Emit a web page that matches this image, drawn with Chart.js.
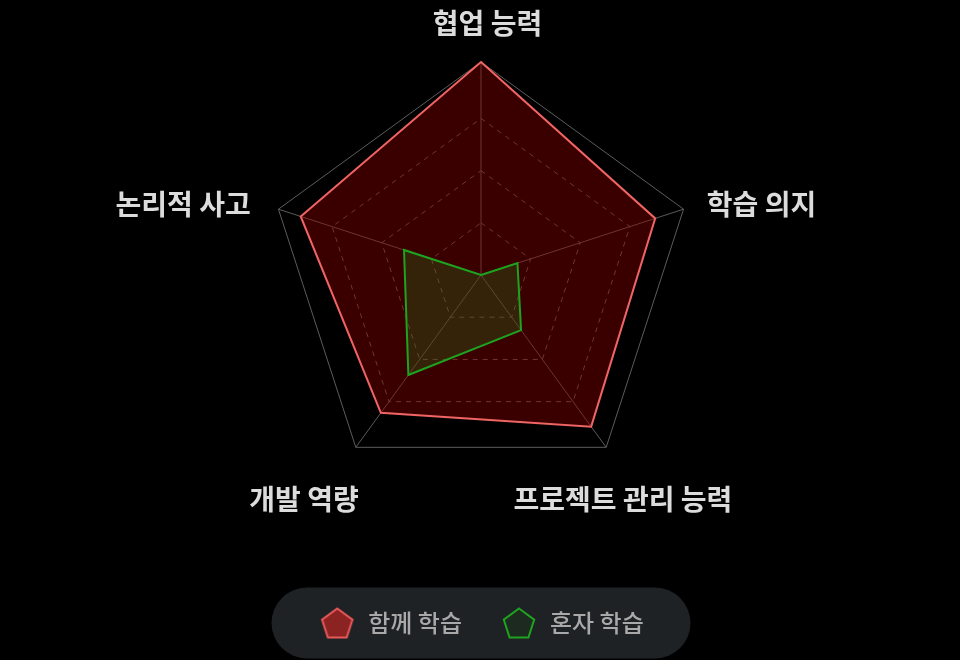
<!DOCTYPE html>
<html>
<head>
<meta charset="utf-8">
<script src="https://cdn.jsdelivr.net/npm/chart.js@4.4.1/dist/chart.umd.min.js"></script>
<style>
  html, body { margin: 0; padding: 0; background: #000; }
  #wrap { width: 960px; height: 660px; position: relative; }
</style>
</head>
<body>
<div id="wrap"><canvas id="radarChart"></canvas></div>
<script>
// categories and values (0 - 100 scale)
var categories = ["협업 능력", "학습 의지", "프로젝트 관리 능력", "개발 역량", "논리적 사고"];
var seriesNames = ["함께 학습", "혼자 학습"];
var togetherValues = [100, 86, 88, 80, 89];
var aloneValues = [0, 18, 32, 58, 38];
var scaleMax = 100;
var scaleStep = 24.5;

var labelFont = '700 28px "Noto Sans CJK KR", "Noto Sans", sans-serif';

// pentagon icon for the legend
function pentagonIcon(fill, stroke) {
  var c = document.createElement("canvas");
  c.width = 36;
  c.height = 36;
  var g = c.getContext("2d");
  var r = 16;
  var cy = 18 + 0.0955 * r;
  g.beginPath();
  for (var i = 0; i < 5; i++) {
    var a = -Math.PI / 2 + i * 2 * Math.PI / 5;
    var px = 18 + r * Math.cos(a);
    var py = cy + r * Math.sin(a);
    if (i == 0) g.moveTo(px, py); else g.lineTo(px, py);
  }
  g.closePath();
  g.fillStyle = fill;
  g.fill();
  g.lineWidth = 2;
  g.strokeStyle = stroke;
  g.stroke();
  return c;
}

// black page + rounded box behind the legend
var backdrop = {
  id: "backdrop",
  beforeDraw: function(chart) {
    var ctx = chart.ctx;
    ctx.save();
    ctx.fillStyle = "#000";
    ctx.fillRect(0, 0, chart.width, chart.height);
    var boxes = chart.legend.legendHitBoxes;
    if (boxes && boxes.length) {
      var cy = boxes[0].top + boxes[0].height / 2;
      var cx = (chart.chartArea.left + chart.chartArea.right) / 2;
      var w = 419;
      var h = 71;
      ctx.beginPath();
      ctx.roundRect(cx - w / 2, cy - h / 2, w, h, h / 2);
      ctx.fillStyle = "#1f2225";
      ctx.fill();
    }
    ctx.restore();
  }
};

// axis names, centred around each spoke end
var axisNames = {
  id: "axisNames",
  afterDraw: function(chart) {
    var scale = chart.scales.r;
    var ctx = chart.ctx;
    var shift = [
      { dx: 6.5, dy: -13, align: "center" },
      { dx: -1.5, dy: 3, align: "left" },
      { dx: 1.5, dy: 31.5, align: "center" },
      { dx: -36.5, dy: 31.5, align: "center" },
      { dx: -3, dy: 3.3, align: "right" }
    ];
    ctx.save();
    ctx.font = labelFont;
    ctx.fillStyle = "#dcdcdc";
    ctx.textBaseline = "middle";
    for (var i = 0; i < categories.length; i++) {
      var p = scale.getPointPosition(i, scale.drawingArea + 26);
      ctx.textAlign = shift[i].align;
      ctx.fillText(categories[i], p.x + shift[i].dx, p.y + shift[i].dy);
    }
    ctx.restore();
  }
};

var ctx1 = document.getElementById("radarChart");

var chart1 = new Chart(ctx1, {
  type: "radar",
  data: {
    labels: categories,
    datasets: [
      {
        label: seriesNames[0],
        data: togetherValues,
        order: 2,
        borderColor: "#f06464",
        backgroundColor: "rgba(139, 0, 0, 0.42)",
        borderWidth: 2,
        pointRadius: 0,
        pointHoverRadius: 0,
        pointStyle: pentagonIcon("#8b2323", "#e85858"),
        fill: true
      },
      {
        label: seriesNames[1],
        data: aloneValues,
        order: 1,
        borderColor: "#1ea31e",
        backgroundColor: "rgba(34, 139, 34, 0.25)",
        borderWidth: 2,
        pointRadius: 0,
        pointHoverRadius: 0,
        pointStyle: pentagonIcon("#1d2a1f", "#1ea31e"),
        fill: true
      }
    ]
  },
  options: {
    responsive: true,
    maintainAspectRatio: false,
    animation: false,
    layout: {
      padding: { left: 268, right: 266, top: 0, bottom: 15 }
    },
    scales: {
      r: {
        min: 0,
        max: scaleMax,
        ticks: { display: false, stepSize: scaleStep },
        pointLabels: { display: false },
        angleLines: { color: "#5a5a5a", lineWidth: 1 },
        grid: { color: "#5c5c5c", lineWidth: 1 },
        border: {
          dash: function(c) {
            return c.index === 4 ? [] : [5, 5];
          }
        }
      }
    },
    plugins: {
      tooltip: { enabled: false },
      legend: {
        display: true,
        position: "bottom",
        title: {
          display: true,
          text: "",
          padding: { top: 10, bottom: 0 },
          font: { size: 10 }
        },
        labels: {
          usePointStyle: true,
          pointStyleWidth: 38,
          padding: 38,
          color: "#a9a9a9",
          font: { size: 24, family: '"Noto Sans CJK KR", "Noto Sans", sans-serif', weight: "500" },
          sort: function(a, b) {
            return a.datasetIndex - b.datasetIndex;
          }
        }
      }
    }
  },
  plugins: [backdrop, axisNames]
});
</script>
</body>
</html>
